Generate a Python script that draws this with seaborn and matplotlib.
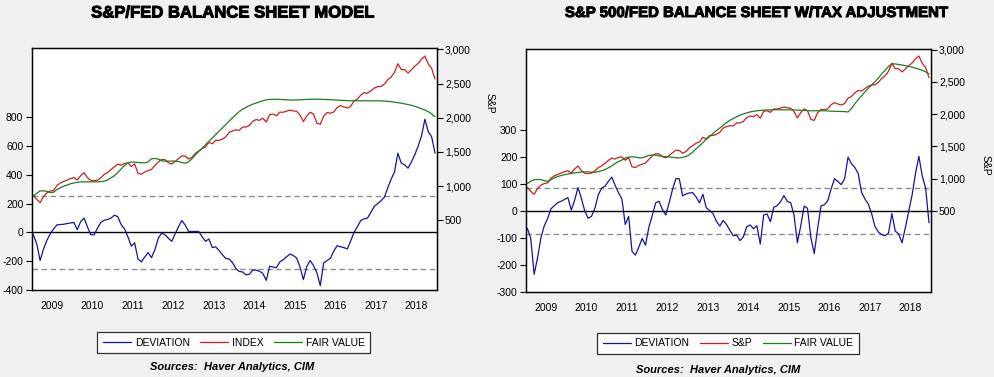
import numpy as np
import pandas as pd
import matplotlib
matplotlib.use("Agg")
import matplotlib.pyplot as plt
import matplotlib.patheffects as pe
import seaborn as sns
from matplotlib.lines import Line2D

# ---------------- data (monthly, Jan 2009 - Dec 2018) ----------------
start_year = 2009
n_years = 10
year_labels = [str(y) for y in range(2009, 2019)]

sp500 = [866, 805, 757, 848, 902, 926, 936, 1010, 1045, 1068, 1088, 1110,
         1124, 1089, 1152, 1197, 1125, 1083, 1080, 1087, 1122, 1172, 1199, 1242,
         1283, 1321, 1305, 1332, 1338, 1287, 1325, 1185, 1174, 1207, 1226, 1243,
         1301, 1353, 1389, 1386, 1341, 1324, 1360, 1403, 1443, 1438, 1395, 1422,
         1480, 1512, 1551, 1571, 1640, 1619, 1669, 1670, 1687, 1720, 1784, 1808,
         1822, 1817, 1864, 1864, 1890, 1947, 1973, 1962, 1993, 1937, 2045, 2054,
         2028, 2082, 2080, 2095, 2112, 2099, 2094, 2040, 1944, 2025, 2081, 2054,
         1919, 1904, 2022, 2076, 2066, 2084, 2149, 2178, 2158, 2143, 2165, 2247,
         2275, 2330, 2367, 2359, 2395, 2434, 2454, 2456, 2493, 2557, 2594, 2664,
         2790, 2705, 2703, 2654, 2702, 2754, 2794, 2858, 2902, 2786, 2723, 2567]

fair_value_model = [855, 895, 930, 930, 925, 905, 910, 950, 975, 1000, 1015, 1035,
                    1045, 1055, 1062, 1062, 1062, 1062, 1062, 1062, 1065, 1072, 1090, 1120,
                    1150, 1200, 1250, 1300, 1340, 1352, 1350, 1345, 1342, 1340, 1355, 1400,
                    1404, 1395, 1370, 1365, 1365, 1365, 1365, 1358, 1345, 1335, 1355, 1400,
                    1457, 1507, 1555, 1605, 1655, 1703, 1753, 1802, 1851, 1901, 1950, 1999,
                    2045, 2090, 2125, 2152, 2178, 2198, 2215, 2232, 2248, 2262, 2268, 2270,
                    2270, 2268, 2265, 2262, 2260, 2258, 2260, 2263, 2266, 2268, 2270, 2270,
                    2270, 2270, 2268, 2266, 2264, 2261, 2258, 2255, 2252, 2250, 2248, 2247,
                    2247, 2247, 2247, 2247, 2247, 2247, 2247, 2246, 2244, 2240, 2235, 2228,
                    2220, 2212, 2203, 2193, 2182, 2168, 2150, 2132, 2112, 2088, 2055, 2015]

deviation_model = [-16, -80, -195, -115, -55, -10, 25, 53, 55, 57, 62, 66,
                   69, 19, 75, 100, 40, -16, -16, 30, 70, 85, 90, 100,
                   120, 110, 55, 25, -30, -95, -72, -185, -205, -170, -140, -175,
                   -120, -40, -5, -16, -40, -62, -10, 40, 83, 50, 7, 7,
                   7, 7, -30, -62, -45, -105, -100, -125, -155, -180, -185, -210,
                   -250, -271, -275, -295, -290, -262, -262, -270, -285, -333, -235, -240,
                   -245, -205, -190, -170, -150, -160, -178, -240, -328, -236, -195, -230,
                   -280, -370, -213, -195, -180, -130, -92, -100, -105, -115, -60, 0,
                   40, 83, 95, 100, 140, 181, 200, 220, 245, 310, 370, 420,
                   551, 482, 470, 447, 490, 540, 600, 670, 787, 700, 665, 551]

fair_value_tax = [926, 960, 985, 988, 988, 970, 962, 985, 1014, 1035, 1050, 1062,
                  1072, 1082, 1091, 1098, 1104, 1107, 1107, 1103, 1101, 1110, 1125, 1142,
                  1170, 1200, 1235, 1265, 1290, 1320, 1335, 1340, 1335, 1325, 1323, 1340,
                  1360, 1369, 1365, 1355, 1347, 1342, 1338, 1333, 1325, 1323, 1330, 1345,
                  1370, 1415, 1465, 1510, 1560, 1610, 1655, 1700, 1745, 1785, 1825, 1870,
                  1905, 1935, 1960, 1985, 2005, 2020, 2035, 2045, 2053, 2058, 2062, 2065,
                  2068, 2068, 2068, 2068, 2068, 2068, 2068, 2066, 2063, 2060, 2058, 2055,
                  2053, 2053, 2053, 2053, 2053, 2050, 2047, 2045, 2043, 2042, 2040, 2035,
                  2085, 2160, 2225, 2285, 2345, 2400, 2455, 2505, 2560, 2625, 2680, 2740,
                  2780, 2778, 2770, 2762, 2752, 2740, 2728, 2713, 2698, 2680, 2655, 2625]

deviation_tax = [-65, -102, -235, -175, -100, -55, -28, 8, 20, 31, 36, 43,
                 50, 3, 40, 87, 47, 0, -27, -20, 10, 60, 85, 92,
                 110, 126, 95, 68, 45, -50, -20, -150, -164, -135, -102, -127,
                 -60, -17, 30, 36, 6, -15, 30, 80, 120, 120, 56, 63,
                 67, 68, 52, 30, 62, 12, 2, -10, -38, -56, -35, -50,
                 -72, -92, -90, -110, -96, -58, -52, -66, -55, -123, -15, -11,
                 -40, 14, 20, 34, 57, 36, 31, -15, -118, -55, 18, 10,
                 -100, -158, -65, 19, 23, 38, 82, 120, 109, 98, 120, 200,
                 176, 162, 140, 70, 45, 26, -10, -58, -78, -88, -92, -82,
                 -10, -75, -85, -118, -62, 0, 60, 140, 203, 130, 85, -44]

band_model = 255
band_tax = 85
left_ticks_model = [-400, -200, 0, 200, 400, 600, 800]
left_ticks_tax = [-300, -200, -100, 0, 100, 200, 300]
right_ticks = [500, 1000, 1500, 2000, 2500, 3000]
right_tick_labels = ["500", "1,000", "1,500", "2,000", "2,500", "3,000"]
legend_model = ["DEVIATION", "INDEX", "FAIR VALUE"]
legend_tax = ["DEVIATION", "S&P", "FAIR VALUE"]
title_model = "S&P/FED BALANCE SHEET MODEL"
title_tax = "S&P 500/FED BALANCE SHEET W/TAX ADJUSTMENT"
source_text = "Sources:  Haver Analytics, CIM"

# ---------------- styling ----------------
sns.set_style("white")
plt.rcParams['font.family'] = ['Liberation Sans', 'DejaVu Sans']
plt.rcParams['text.color'] = 'black'
plt.rcParams['axes.labelcolor'] = 'black'
plt.rcParams['xtick.color'] = 'black'
plt.rcParams['ytick.color'] = 'black'

BG = "#F0F0F0"
BLUE = "#1414A0"
RED = "#CC1F1F"
GREEN = "#1E7D1E"
GRAY = "#8C8C8C"

W, H = 995, 377
fig = plt.figure(figsize=(W / 100, H / 100), dpi=100, facecolor=BG)

months = pd.date_range(f"{start_year}-01-01", periods=len(sp500), freq="MS")
t = months.year + (months.month - 0.5) / 12.0


def px_rect(l, r, top, bottom):
    return [l / W, 1 - bottom / H, (r - l) / W, (bottom - top) / H]


def panel(rect, dev, fv, ylim_l, ylim_r, lticks, band, labels, leg_xy):
    ax = fig.add_axes(rect)
    ax.set_facecolor("white")
    axr = ax.twinx()
    df = pd.DataFrame({"t": t, "dev": dev, "idx": sp500, "fv": fv})

    ax.axhline(0, color="black", lw=1.0, zorder=1)
    ax.axhline(band, color=GRAY, lw=1.0, ls=(0, (4, 2.5)), zorder=1)
    ax.axhline(-band, color=GRAY, lw=1.0, ls=(0, (4, 2.5)), zorder=1)
    sns.lineplot(data=df, x="t", y="dev", ax=ax, color=BLUE, lw=0.9, legend=False)
    sns.lineplot(data=df, x="t", y="idx", ax=axr, color=RED, lw=0.9, legend=False)
    sns.lineplot(data=df, x="t", y="fv", ax=axr, color=GREEN, lw=0.9, legend=False)

    ax.set_xlim(start_year, start_year + n_years)
    ax.set_ylim(*ylim_l)
    axr.set_ylim(*ylim_r)
    ax.set_xlabel("")
    ax.set_ylabel("")
    axr.set_xlabel("")
    axr.set_ylabel("")

    ax.set_yticks(lticks)
    ax.set_yticklabels([str(v) for v in lticks])
    axr.set_yticks(right_ticks)
    axr.set_yticklabels(right_tick_labels)

    years_b = [start_year + k for k in range(n_years + 1)]
    quarters = [start_year + k + q / 4 for k in range(n_years) for q in (1, 2, 3)]
    ax.set_xticks(years_b)
    ax.set_xticks(quarters, minor=True)
    ax.tick_params(axis="x", which="major", direction="out", length=5, width=0.8,
                   labelbottom=False, color="black")
    ax.tick_params(axis="x", which="minor", direction="out", length=3, width=0.8,
                   color="black")
    ax.tick_params(axis="y", direction="out", length=4, width=0.8, labelsize=7.5,
                   pad=2, left=True, color="black", labelcolor="black")
    axr.tick_params(axis="y", direction="out", length=4, width=0.8, labelsize=7.5,
                    pad=2, right=True, color="black", labelcolor="black")

    sec = ax.secondary_xaxis("bottom")
    sec.set_xticks([start_year + k + 0.5 for k in range(n_years)])
    sec.set_xticklabels(year_labels)
    sec.tick_params(length=0, labelsize=7.5, pad=8, labelcolor="black")
    sec.spines["bottom"].set_visible(False)

    for a in (ax, axr):
        for s in a.spines.values():
            s.set_color("black")
            s.set_linewidth(0.9)

    handles = [Line2D([], [], color=BLUE, lw=0.9),
               Line2D([], [], color=RED, lw=0.9),
               Line2D([], [], color=GREEN, lw=0.9)]
    leg = fig.legend(handles, labels, loc="center", bbox_to_anchor=leg_xy, ncol=3,
                     frameon=True, fancybox=False, edgecolor="black", fontsize=7.5,
                     handlelength=2.7, handletextpad=0.35, columnspacing=1.0,
                     borderpad=0.55, borderaxespad=0)
    leg.get_frame().set_linewidth(0.9)
    leg.get_frame().set_facecolor("white")
    for txt in leg.get_texts():
        txt.set_color("black")
    return ax, axr


panel(px_rect(31.7, 436.7, 48, 290), deviation_model, fair_value_model,
      (-400, 1282), (-520, 3020), left_ticks_model, band_model, legend_model,
      (233.7 / W, 1 - 342.5 / H))
panel(px_rect(525.7, 930.7, 49, 291.7), deviation_tax, fair_value_tax,
      (-300, 602), (-750, 3010), left_ticks_tax, band_tax, legend_tax,
      (728 / W, 1 - 343.3 / H))

heavy = [pe.withStroke(linewidth=0.7, foreground="black")]
fig.text(232.5 / W, 1 - 13 / H, title_model, ha="center", va="center",
         fontsize=12, fontweight="bold", color="black", path_effects=heavy)
fig.text(756 / W, 1 - 13 / H, title_tax, ha="center", va="center",
         fontsize=10.8, fontweight="bold", color="black", path_effects=heavy)

fig.text(490 / W, 1 - 103 / H, "S&P", rotation=270, ha="center", va="center",
         fontsize=7.5, color="black")
fig.text(986 / W, 1 - 165 / H, "S&P", rotation=270, ha="center", va="center",
         fontsize=7.5, color="black")

fig.text(232.5 / W, 1 - 367.3 / H, source_text, ha="center", va="center",
         fontsize=8, fontweight="bold", style="italic", color="black")
fig.text(718.5 / W, 1 - 370 / H, source_text, ha="center", va="center",
         fontsize=8, fontweight="bold", style="italic", color="black")

fig.savefig("out.png", dpi=100, facecolor=BG)
